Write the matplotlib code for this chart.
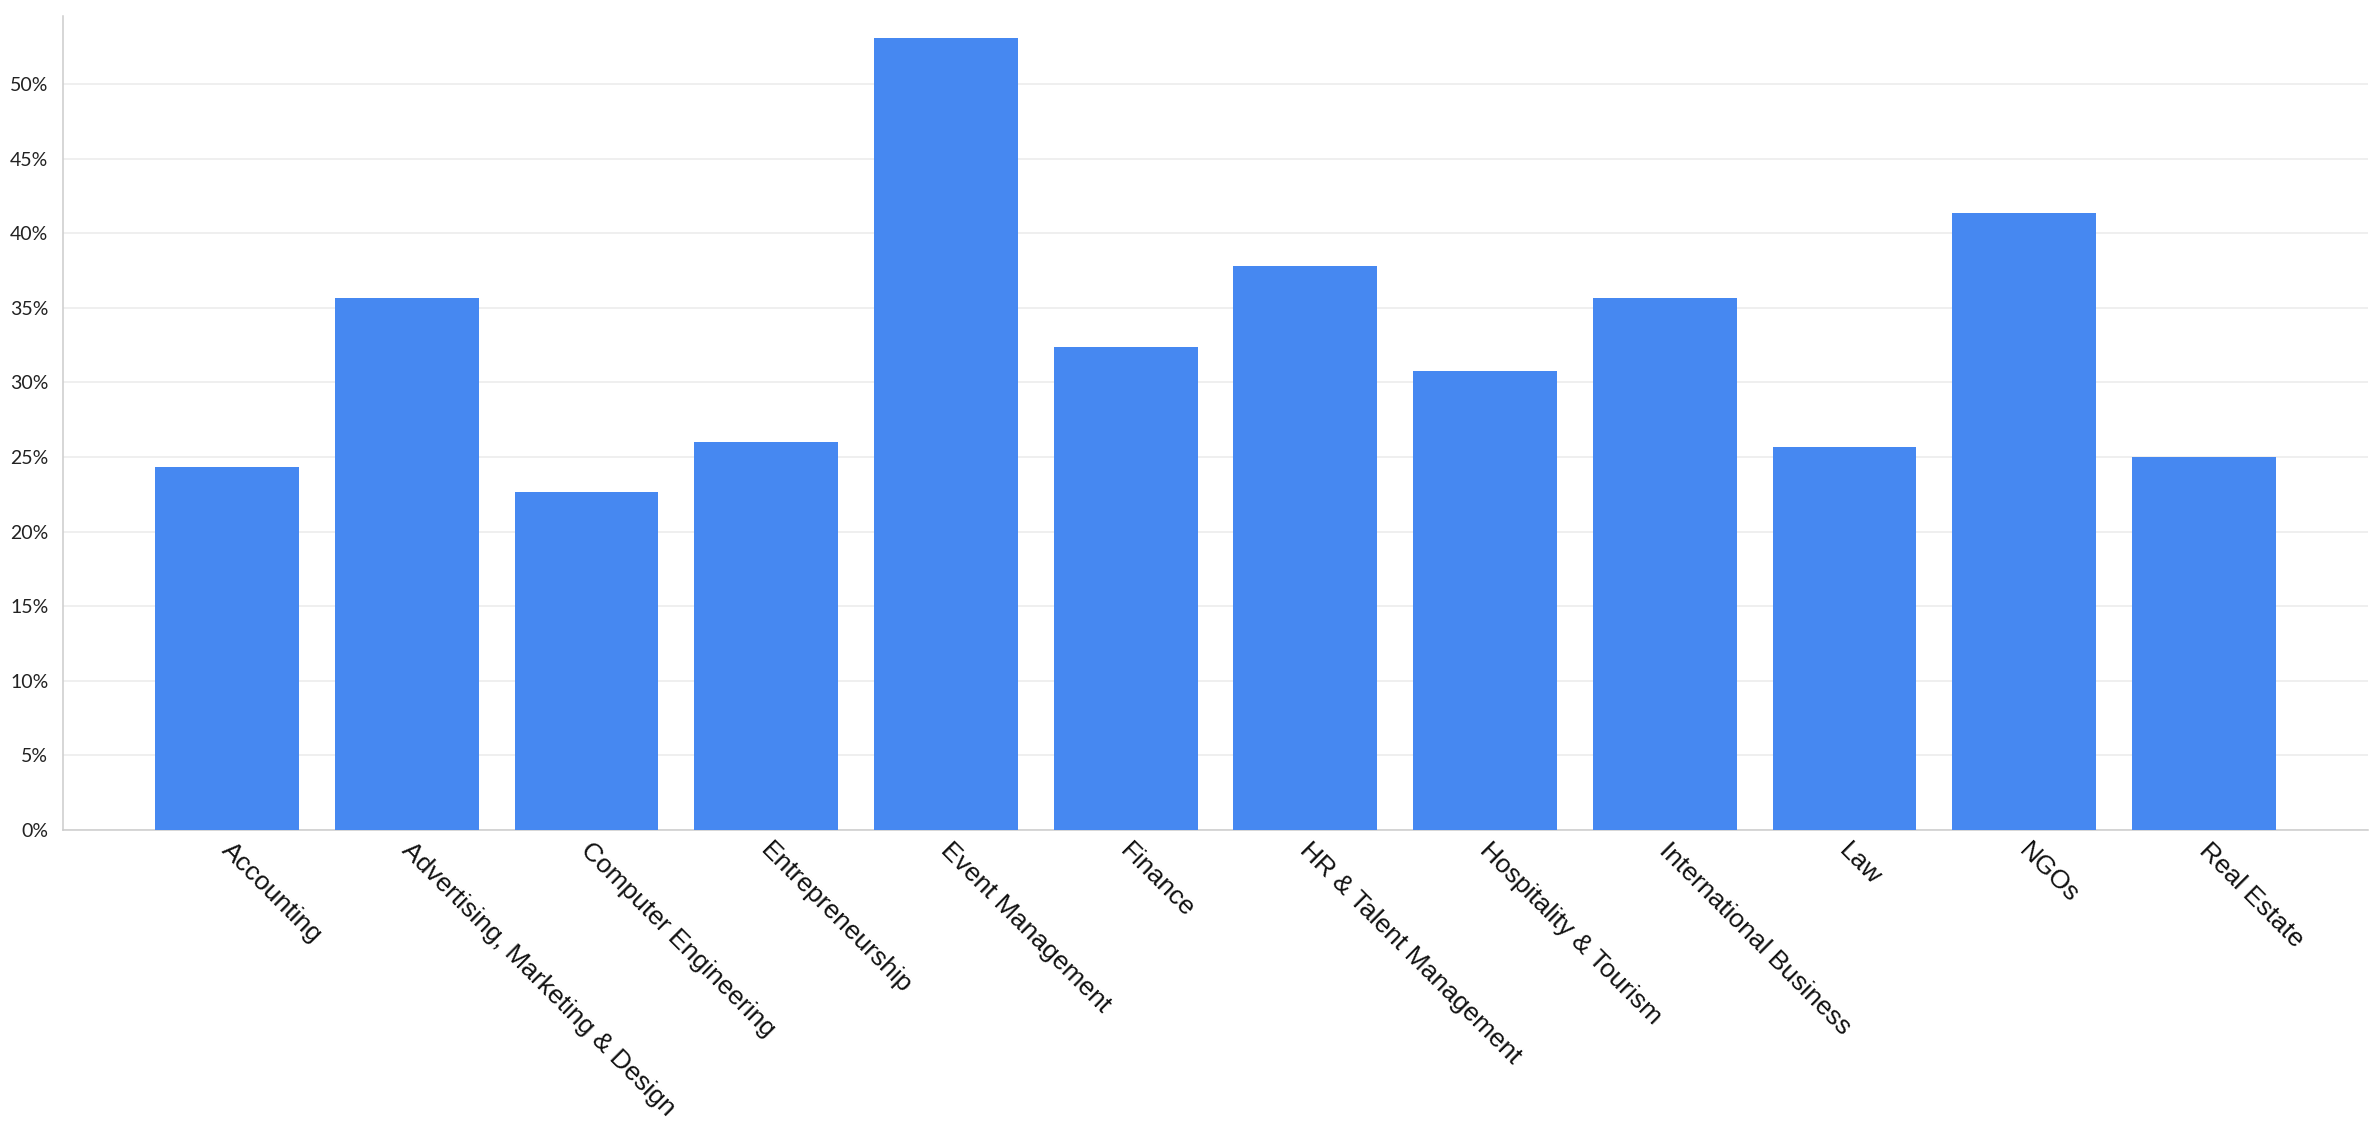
import matplotlib.pyplot as plt
from matplotlib.ticker import MultipleLocator, FuncFormatter
from matplotlib.transforms import ScaledTranslation

categories = [
    "Accounting", "Advertising, Marketing & Design", "Computer Engineering",
    "Entrepreneurship", "Event Management", "Finance", "HR & Talent Management",
    "Hospitality & Tourism", "International Business", "Law", "NGOs", "Real Estate",
]
values = [24.35, 35.63, 22.63, 26.03, 53.08, 32.4, 37.8, 30.74, 35.68, 25.69, 41.35, 25.0]

BAR_COLOR = "#4688f1"
GRID_COLOR = "#ebebeb"
AXIS_COLOR = "#cccccc"

fig = plt.figure(figsize=(23.8, 11.34), dpi=100)
ax = fig.add_axes([63 / 2380, 1 - 830 / 1134, (2368 - 63) / 2380, (830 - 16) / 1134])

x = range(len(categories))
ax.bar(x, values, width=0.8, color=BAR_COLOR, zorder=3)

ax.set_xlim(-0.912, len(categories) - 1 + 0.912)
ax.set_ylim(0, 54.56)

ax.yaxis.set_major_locator(MultipleLocator(5))
ax.yaxis.set_major_formatter(FuncFormatter(lambda v, p: f"{v:.0f}%"))
ax.yaxis.grid(True, color=GRID_COLOR, linewidth=1.1, zorder=0)
ax.set_axisbelow(True)

ax.set_xticks(list(x))
ax.set_xticklabels(categories, rotation=-45, ha="left", va="top",
                   rotation_mode="anchor", fontsize=19,
                   family=["Liberation Sans", "DejaVu Sans"], color="#111111")
ax.tick_params(axis="x", length=0, pad=6)
ax.tick_params(axis="y", length=0, pad=10.5, labelsize=14, labelcolor="#222222")
for lbl in ax.get_yticklabels():
    lbl.set_family(["Lato", "DejaVu Sans"])

# nudge the rotated labels a little to the right
shift = ScaledTranslation(7 / 100, 0, fig.dpi_scale_trans)
for lbl in ax.get_xticklabels():
    lbl.set_transform(lbl.get_transform() + shift)

for side in ["top", "right"]:
    ax.spines[side].set_visible(False)
ax.spines["left"].set_color(AXIS_COLOR)
ax.spines["bottom"].set_color(AXIS_COLOR)
ax.spines["left"].set_linewidth(1.1)
ax.spines["bottom"].set_linewidth(1.1)

fig.savefig("out.png", dpi=100, facecolor="white")
